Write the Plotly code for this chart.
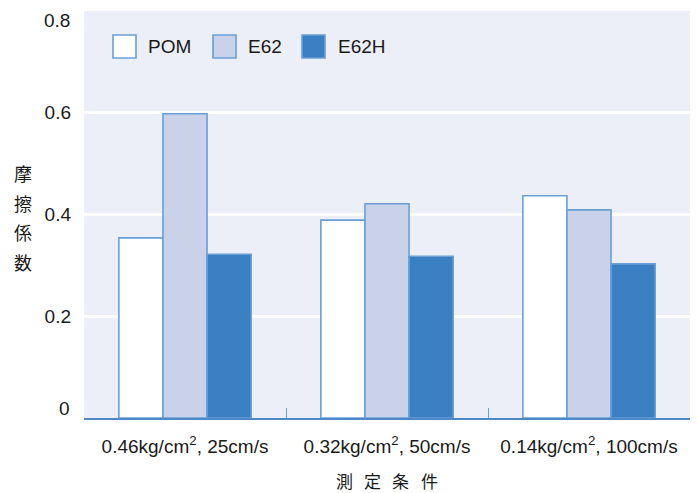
import plotly.graph_objects as go

conditions = [
    "0.46kg/cm<sup>2</sup>, 25cm/s",
    "0.32kg/cm<sup>2</sup>, 50cm/s",
    "0.14kg/cm<sup>2</sup>, 100cm/s",
]
pom = [0.354, 0.389, 0.437]
e62 = [0.598, 0.421, 0.409]
e62h = [0.322, 0.318, 0.303]

y_ticks = [0.2, 0.4, 0.6]
y_tick_text = ["0.2", "0.4", "0.6"]
y_end_ticks = [0, 0.8]
y_end_text = ["0", "0.8"]

y_title_chars = ["摩", "擦", "係", "数"]
x_title_chars = ["測", "定", "条", "件"]

W, H = 698, 493
ML, MR, MT, MB = 84, 8, 11, 75
PW, PH = W - ML - MR, H - MT - MB


def px(x):
    return (x - ML) / PW


def py(y):
    return 1 - (y - MT) / PH


edge = "#6a9fd6"
series = [
    ("POM", pom, "#ffffff"),
    ("E62", e62, "#cad2ea"),
    ("E62H", e62h, "#3a7fc2"),
]
TEXT = "#1a1a1a"
FONT = "Liberation Sans, Arial, sans-serif"
CJK = "Noto Sans CJK JP"

fig = go.Figure()
for name, vals, fill in series:
    fig.add_trace(go.Bar(
        name=name, x=conditions, y=vals,
        marker=dict(color=fill, line=dict(color=edge, width=1.6)),
        showlegend=False,
    ))

fig.update_layout(
    width=W, height=H,
    margin=dict(l=ML, r=MR, t=MT, b=MB),
    paper_bgcolor="white",
    plot_bgcolor="#eceff7",
    barmode="group",
    bargap=0.345,
    bargroupgap=0,
    font=dict(family=FONT, size=19, color=TEXT),
    xaxis=dict(
        type="category",
        showline=True, linecolor="#4f88c6", linewidth=2,
        ticks="inside", tickson="boundaries", ticklen=10,
        tickcolor="#6a9fd6", tickwidth=1,
        tickfont=dict(size=19), ticklabelstandoff=10,
        showgrid=False, tickangle=0,
    ),
    yaxis=dict(
        range=[0, 0.8],
        tickvals=y_ticks, ticktext=y_tick_text,
        showgrid=True, gridcolor="white", gridwidth=2.5,
        zeroline=False, showline=False,
        ticks="", ticklabelstandoff=12,
        tickfont=dict(size=19),
    ),
)

# end labels of the value axis sit just inside the plot edges
for v, t, dy in zip(y_end_ticks, y_end_text, [10, -9]):
    fig.add_annotation(
        text=t, xref="paper", yref="y", x=0, y=v,
        xanchor="right", yanchor="middle", xshift=-12, yshift=dy,
        showarrow=False, font=dict(family=FONT, size=19, color=TEXT),
    )

# legend: large swatches with labels, in one row at the top left
legend_items = [(113, 146), (213, 246), (302, 336)]
for (sx, tx), (name, _, fill) in zip(legend_items, series):
    fig.add_shape(
        type="rect", xref="paper", yref="paper",
        x0=px(sx), x1=px(sx + 23), y0=py(58), y1=py(35),
        fillcolor=fill, line=dict(color=edge, width=1.6),
    )
    fig.add_annotation(
        text=name, xref="paper", yref="paper", x=px(tx), y=py(47),
        xanchor="left", yanchor="middle", showarrow=False,
        font=dict(family=FONT, size=19, color=TEXT),
    )

# vertical axis title, one character per line
for i, ch in enumerate(y_title_chars):
    fig.add_annotation(
        text=ch, xref="paper", yref="paper", x=px(23), y=py(173 + 29.7 * i),
        xanchor="center", yanchor="middle", showarrow=False,
        font=dict(family=CJK, size=18, color=TEXT),
    )

# horizontal axis title, widely spaced characters
for i, ch in enumerate(x_title_chars):
    fig.add_annotation(
        text=ch, xref="paper", yref="paper", x=px(344 + 28.5 * i), y=py(480),
        xanchor="center", yanchor="middle", showarrow=False,
        font=dict(family=CJK, size=17, color=TEXT),
    )

fig.write_html("out.html")
